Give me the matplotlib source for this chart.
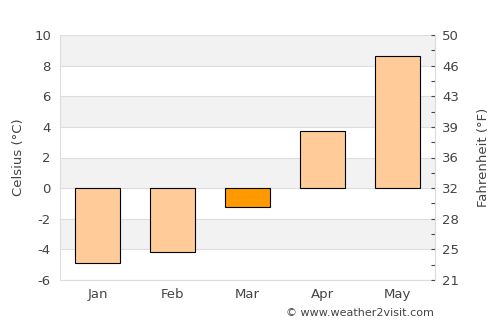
import numpy as np
import matplotlib
matplotlib.use("Agg")
import matplotlib.pyplot as plt
from matplotlib.ticker import MultipleLocator

months = ["Jan", "Feb", "Mar", "Apr", "May"]
temps_c = [-4.9, -4.2, -1.2, 3.7, 8.6]
bar_colors = ["#ffcc99", "#ffcc99", "#ff9900", "#ffcc99", "#ffcc99"]
c_ticks = [-6, -4, -2, 0, 2, 4, 6, 8, 10]
f_labels = [round(c * 9 / 5 + 32) for c in c_ticks]

text_col = "#444444"
grid_col = "#dddddd"

fig = plt.figure(figsize=(5, 3.25), dpi=100)
ax = fig.add_axes([60 / 500, 1 - 280 / 325, 375 / 500, 245 / 325])

# alternating bands
for lo in range(-4, 10, 4):
    ax.axhspan(lo, lo + 2, color="#f2f2f2", zorder=0, lw=0)
for c in c_ticks:
    ax.axhline(c, color=grid_col, lw=0.8, zorder=1)

x = np.arange(len(months))
ax.bar(x, temps_c, width=0.6, color=bar_colors, edgecolor="black", linewidth=0.8, zorder=3)

ax.set_xlim(-0.5, len(months) - 0.5)
ax.set_ylim(-6, 10)
ax.set_yticks(c_ticks)
ax.set_yticklabels([str(c) for c in c_ticks])
ax.set_xticks(x)
ax.set_xticklabels(months)
ax.tick_params(axis="both", length=0, colors=text_col, labelsize=9.5)
ax.tick_params(axis="x", pad=6)
ax.tick_params(axis="y", pad=6.5)
ax.set_ylabel("Celsius (°C)", color=text_col, fontsize=9.5, labelpad=6.5)
for s in ax.spines.values():
    s.set_color(grid_col)
    s.set_linewidth(0.8)
ax.spines["top"].set_visible(False)

ax2 = ax.twinx()
ax2.set_ylim(-6, 10)
ax2.set_yticks(c_ticks)
ax2.set_yticklabels([str(f) for f in f_labels])
ax2.yaxis.set_minor_locator(MultipleLocator(1))
ax2.tick_params(axis="y", which="both", direction="in", length=3, width=0.8,
                color=text_col, labelcolor=text_col, labelsize=9.5, pad=5)
ax2.set_ylabel("Fahrenheit (°F)", color=text_col, fontsize=9.5, labelpad=13)
for s in ax2.spines.values():
    s.set_visible(False)
ax2.spines["right"].set_visible(True)
ax2.spines["right"].set_color(grid_col)
ax2.spines["right"].set_linewidth(0.8)

fig.text(434 / 500, 1 - 313 / 325, "© www.weather2visit.com", ha="right", va="center",
         fontsize=8, color=text_col)

fig.savefig("out.png", dpi=100)
